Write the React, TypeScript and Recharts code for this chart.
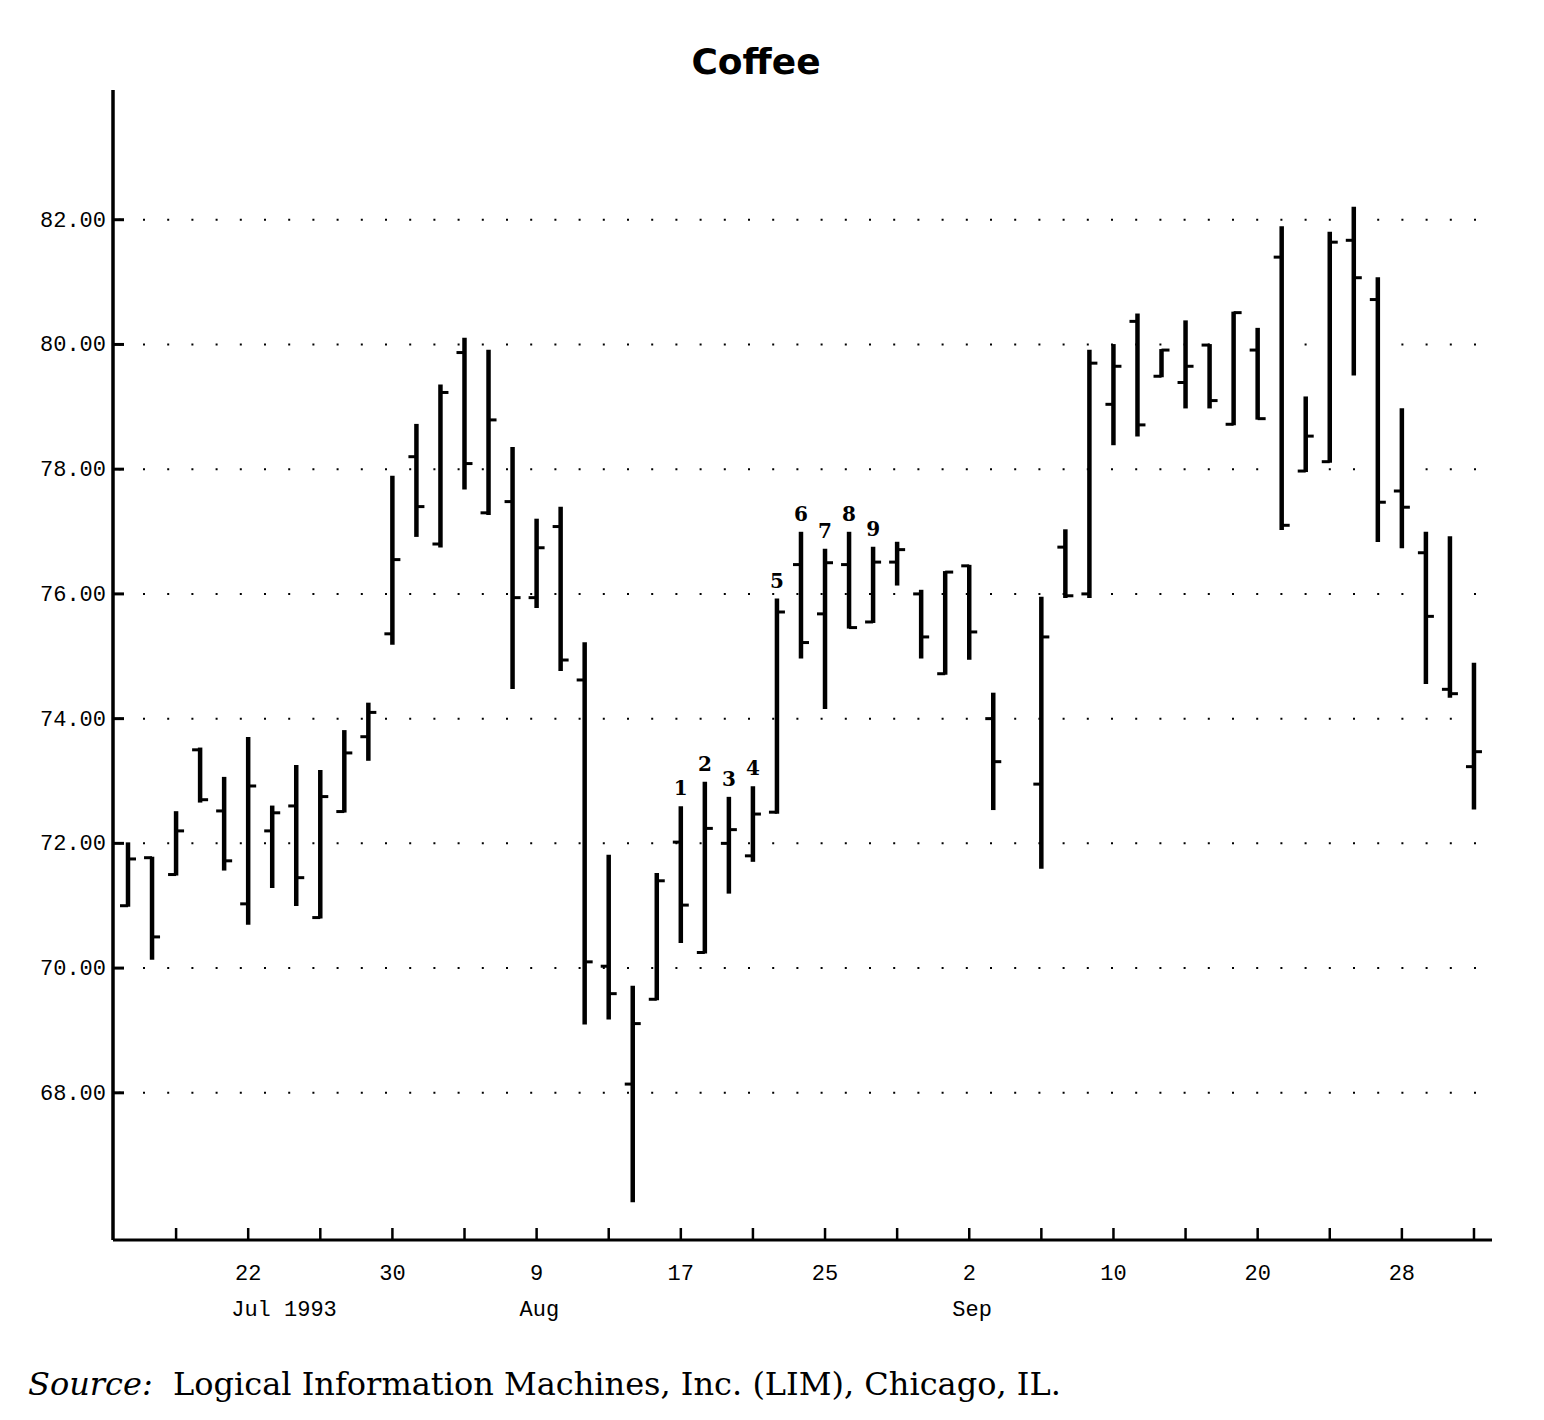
import { ComposedChart, Bar, XAxis, YAxis, ReferenceLine } from 'recharts';

document.body.style.margin = '0';

// trading-day slots, Sep 6 (Labor Day) left empty
const dates = [
  'Jul 15', 'Jul 16', 'Jul 19', 'Jul 20', 'Jul 21', 'Jul 22', 'Jul 23', 'Jul 26', 'Jul 27', 'Jul 28', 'Jul 29', 'Jul 30',
  'Aug 2', 'Aug 3', 'Aug 4', 'Aug 5', 'Aug 6', 'Aug 9', 'Aug 10', 'Aug 11', 'Aug 12', 'Aug 13', 'Aug 16', 'Aug 17',
  'Aug 18', 'Aug 19', 'Aug 20', 'Aug 23', 'Aug 24', 'Aug 25', 'Aug 26', 'Aug 27', 'Aug 30', 'Aug 31',
  'Sep 1', 'Sep 2', 'Sep 3', 'Sep 6', 'Sep 7', 'Sep 8', 'Sep 9', 'Sep 10', 'Sep 13', 'Sep 14', 'Sep 15', 'Sep 16',
  'Sep 17', 'Sep 20', 'Sep 21', 'Sep 22', 'Sep 23', 'Sep 24', 'Sep 27', 'Sep 28', 'Sep 29', 'Sep 30', 'Oct 1',
];

const opens = [
  71.0, 71.77, 71.5, 73.5, 72.52, 71.03, 72.2, 72.6, 70.81, 72.51, 73.71, 75.36,
  78.2, 76.8, 79.87, 77.3, 77.48, 75.94, 77.08, 74.62, 70.03, 68.14, 69.5, 72.02,
  70.25, 72.0, 71.8, 72.5, 76.47, 75.68, 76.47, 75.55, 76.51, 76.0,
  74.72, 76.45, 74.0, null, 72.95, 76.75, 76.0, 79.04, 80.37, 79.49, 79.39, 79.99,
  78.72, 79.91, 81.4, 77.97, 78.12, 81.67, 80.72, 77.65, 76.66, 74.47, 73.23,
];
const highs = [
  72.0, 71.77, 72.5, 73.52, 73.05, 73.69, 72.59, 73.24, 73.16, 73.8, 74.24, 77.88,
  78.71, 79.34, 80.09, 79.9, 78.34, 77.19, 77.38, 75.21, 71.8, 69.7, 71.51, 72.58,
  72.97, 72.73, 72.9, 75.91, 76.98, 76.71, 76.98, 76.74, 76.82, 76.05,
  76.35, 76.45, 74.4, null, 75.94, 77.02, 79.9, 79.99, 80.48, 79.91, 80.37, 79.99,
  80.51, 80.25, 81.88, 79.15, 81.79, 82.19, 81.06, 78.96, 76.98, 76.91, 74.88,
];
const lows = [
  71.0, 70.15, 71.5, 72.67, 71.58, 70.71, 71.3, 71.01, 70.81, 72.51, 73.34, 75.2,
  76.93, 76.76, 77.69, 77.28, 74.49, 75.79, 74.78, 69.11, 69.19, 66.26, 69.5, 70.42,
  70.25, 71.21, 71.72, 72.49, 74.98, 74.17, 75.46, 75.55, 76.15, 74.98,
  74.72, 74.96, 72.55, null, 71.61, 75.95, 75.95, 78.4, 78.54, 79.49, 78.99, 78.99,
  78.72, 78.81, 77.04, 77.97, 78.12, 79.52, 76.85, 76.75, 74.57, 74.35, 72.56,
];
const closes = [
  71.75, 70.5, 72.2, 72.7, 71.72, 72.92, 72.49, 71.45, 72.75, 73.45, 74.1, 76.55,
  77.4, 79.23, 78.09, 78.79, 75.94, 76.74, 74.94, 70.1, 69.59, 69.11, 71.4, 71.01,
  72.24, 72.22, 72.47, 75.71, 75.22, 76.5, 75.46, 76.51, 76.71, 75.31,
  76.35, 75.39, 73.31, null, 75.31, 75.97, 79.7, 79.65, 78.71, 79.91, 79.65, 79.1,
  80.51, 78.81, 77.1, 78.53, 81.64, 81.07, 77.47, 77.39, 75.64, 74.4, 73.47,
];

const markDates = ['Aug 17', 'Aug 18', 'Aug 19', 'Aug 20', 'Aug 23', 'Aug 24', 'Aug 25', 'Aug 26', 'Aug 27'];
const markLabels = ['1', '2', '3', '4', '5', '6', '7', '8', '9'];

const tickDates = [
  'Jul 19', 'Jul 22', 'Jul 27', 'Jul 30', 'Aug 4', 'Aug 9', 'Aug 12', 'Aug 17', 'Aug 20', 'Aug 25',
  'Aug 30', 'Sep 2', 'Sep 7', 'Sep 10', 'Sep 15', 'Sep 20', 'Sep 23', 'Sep 28', 'Oct 1',
];
const tickDays = ['', '22', '', '30', '', '9', '', '17', '', '25', '', '2', '', '10', '', '20', '', '28', ''];
const tickMonths = ['', 'Jul 1993', '', '', '', 'Aug', '', '', '', '', '', 'Sep', '', '', '', '', '', '', ''];

const yTicks = [68, 70, 72, 74, 76, 78, 80, 82];

const data = dates.map((date, i) => ({
  date,
  open: opens[i],
  high: highs[i],
  low: lows[i],
  close: closes[i],
  mark: markDates.includes(date) ? markLabels[markDates.indexOf(date)] : '',
}));

const PLOT_LEFT = 113;
const PLOT_BOTTOM = 1240;
const tickFont = '"Liberation Mono", "DejaVu Sans Mono", monospace';

function OhlcShape(props: any) {
  const { x, y, width, height, payload } = props;
  if (payload == null || payload.high == null) return null;
  const top = Math.min(y, y + height);
  const bottom = Math.max(y, y + height);
  const span = payload.high - payload.low;
  const toY = (v: number) => (span === 0 ? top : top + ((payload.high - v) / span) * (bottom - top));
  const cx = x + width / 2;
  const yo = toY(payload.open);
  const yc = toY(payload.close);
  return (
    <g>
      <line x1={cx} x2={cx} y1={top - 1} y2={bottom + 1} stroke="#000" strokeWidth={4.5} />
      <line x1={cx - 8} x2={cx} y1={yo} y2={yo} stroke="#000" strokeWidth={3} />
      <line x1={cx} x2={cx + 8} y1={yc} y2={yc} stroke="#000" strokeWidth={3} />
      {payload.mark && (
        <text x={cx} y={top - 12} textAnchor="middle" fontFamily="'DejaVu Serif', serif" fontWeight="bold" fontSize={20} fill="#000">
          {payload.mark}
        </text>
      )}
    </g>
  );
}

function XTick(props: any) {
  const { x, payload } = props;
  const i = tickDates.indexOf(payload.value);
  const day = i >= 0 ? tickDays[i] : '';
  const month = i >= 0 ? tickMonths[i] : '';
  return (
    <g>
      <line x1={x} x2={x} y1={PLOT_BOTTOM} y2={PLOT_BOTTOM - 12} stroke="#000" strokeWidth={2.5} />
      {day && (
        <text x={x} y={PLOT_BOTTOM + 40} textAnchor="middle" fontFamily={tickFont} fontSize={22} fill="#000">
          {day}
        </text>
      )}
      {month && (
        <text x={x - 17} y={PLOT_BOTTOM + 76} textAnchor="start" fontFamily={tickFont} fontSize={22} fill="#000">
          {month}
        </text>
      )}
    </g>
  );
}

function YTick(props: any) {
  const { y, payload } = props;
  return (
    <g>
      <line x1={PLOT_LEFT} x2={PLOT_LEFT + 11} y1={y} y2={y} stroke="#000" strokeWidth={3} />
      <text x={PLOT_LEFT - 7} y={y + 7} textAnchor="end" fontFamily={tickFont} fontSize={22} fill="#000">
        {Number(payload.value).toFixed(2)}
      </text>
    </g>
  );
}

export default function App() {
  return (
    <div style={{ position: 'relative', width: 1544, height: 1420, background: '#fff' }}>
      <div
        style={{
          position: 'absolute',
          left: 0,
          width: 1512,
          top: 40,
          textAlign: 'center',
          fontFamily: '"DejaVu Sans", sans-serif',
          fontWeight: 'bold',
          fontSize: 36,
          lineHeight: '44px',
          color: '#000',
        }}
      >
        Coffee
      </div>
      <ComposedChart
        width={1544}
        height={1420}
        data={data}
        margin={{ top: 90, right: 52, bottom: 80, left: 13 }}
      >
        <XAxis
          dataKey="date"
          height={100}
          ticks={tickDates}
          interval={0}
          padding={{ left: 3, right: 6 }}
          axisLine={{ stroke: '#000', strokeWidth: 3 }}
          tickLine={false}
          tick={<XTick />}
        />
        <YAxis
          width={100}
          domain={[65.64, 84.08]}
          ticks={yTicks}
          allowDataOverflow
          axisLine={{ stroke: '#000', strokeWidth: 3.5 }}
          tickLine={false}
          tick={<YTick />}
        />
        {yTicks.map((v) => (
          <ReferenceLine
            key={v}
            y={v}
            stroke="#000"
            strokeWidth={2}
            strokeDasharray="2 22.2"
            strokeDashoffset={-5.8}
          />
        ))}
        <Bar
          dataKey={(d: any) => (d.high == null ? null : [d.low, d.high])}
          barSize={8}
          shape={<OhlcShape />}
          isAnimationActive={false}
        />
      </ComposedChart>
      <div
        style={{
          position: 'absolute',
          left: 28,
          top: 1362,
          fontFamily: '"DejaVu Serif", serif',
          fontSize: 32,
          lineHeight: '44px',
          color: '#000',
          whiteSpace: 'nowrap',
        }}
      >
        <span style={{ fontStyle: 'italic' }}>Source:</span>&nbsp; Logical Information Machines, Inc. (LIM), Chicago, IL.
      </div>
    </div>
  );
}
